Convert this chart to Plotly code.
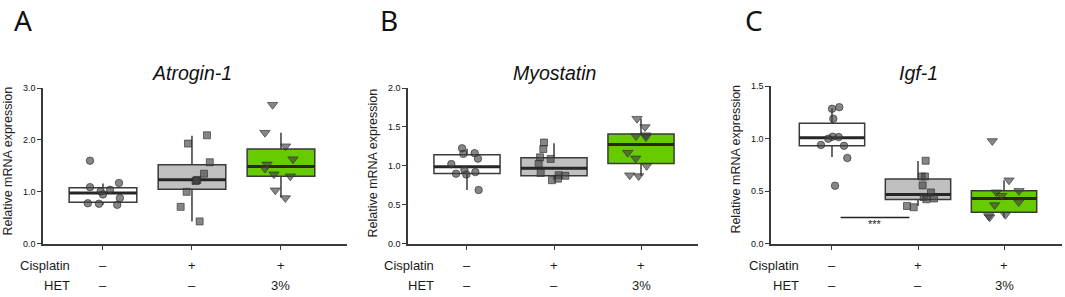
import plotly.graph_objects as go

# ---------------- data ----------------
cisplatin_labels = ["–", "+", "+"]
het_labels = ["–", "–", "3%"]
gene_titles = ["Atrogin-1", "Myostatin", "Igf-1"]
panel_letters = ["A", "B", "C"]
y_title = "Relative mRNA expression"
row_names = ["Cisplatin", "HET"]

# Atrogin-1
atrogin_ctrl = [1.60, 1.09, 1.17, 1.01, 0.95, 1.04, 0.88, 0.78, 0.77, 0.75]
atrogin_ctrl_jit = [-0.146, -0.146, 0.18, -0.026, 0.0, 0.079, 0.19, -0.17, -0.045, 0.16]
atrogin_cis = [2.09, 1.93, 1.57, 1.35, 1.23, 1.21, 1.22, 1.00, 0.71, 0.43]
atrogin_cis_jit = [0.169, -0.045, 0.2, 0.135, 0.06, 0.04, 0.05, -0.06, -0.127, 0.086]
atrogin_het = [2.68, 2.14, 1.88, 1.63, 1.53, 1.45, 1.34, 1.30, 1.03, 0.88]
atrogin_het_jit = [-0.094, -0.18, 0.052, 0.135, -0.157, -0.18, -0.079, 0.105, -0.064, 0.049]
atrogin_q1 = [0.80, 1.05, 1.30]
atrogin_median = [0.975, 1.235, 1.49]
atrogin_q3 = [1.08, 1.52, 1.826]
atrogin_lower = [0.75, 0.43, 0.89]
atrogin_upper = [1.16, 2.08, 2.14]

# Myostatin
myo_ctrl = [1.226, 1.155, 1.164, 1.093, 1.023, 0.95, 0.90, 0.89, 0.92, 0.69]
myo_ctrl_jit = [-0.057, -0.042, 0.088, 0.126, -0.18, -0.03, -0.126, -0.008, 0.096, 0.134]
myo_cis = [1.30, 1.217, 1.11, 1.09, 1.027, 0.91, 0.88, 0.873, 0.836, 0.816]
myo_cis_jit = [-0.115, -0.123, -0.16, -0.038, -0.176, -0.153, 0.054, 0.13, 0.046, -0.023]
myo_het = [1.607, 1.50, 1.383, 1.395, 1.37, 1.17, 1.097, 1.0, 0.88, 0.87]
myo_het_jit = [-0.046, 0.046, -0.057, 0.054, 0.057, -0.153, -0.061, 0.065, -0.13, -0.027]
myo_q1 = [0.903, 0.873, 1.03]
myo_median = [0.99, 0.969, 1.276]
myo_q3 = [1.143, 1.106, 1.41]
myo_lower = [0.69, 0.82, 0.87]
myo_upper = [1.22, 1.29, 1.607]

# Igf-1
igf_ctrl = [1.30, 1.285, 1.19, 1.019, 1.015, 1.0, 0.94, 0.932, 0.816, 0.552]
igf_ctrl_jit = [0.085, 0.0, 0.015, 0.008, 0.078, -0.043, -0.128, 0.14, 0.178, 0.035]
igf_cis = [0.79, 0.64, 0.64, 0.555, 0.488, 0.445, 0.423, 0.43, 0.359, 0.347]
igf_cis_jit = [0.089, 0.043, 0.081, 0.054, 0.151, 0.066, 0.097, 0.186, -0.128, -0.05]
igf_het = [0.978, 0.604, 0.49, 0.457, 0.503, 0.396, 0.368, 0.264, 0.252, 0.276]
igf_het_jit = [-0.136, 0.058, -0.089, -0.027, 0.174, 0.171, -0.109, -0.178, -0.167, 0.016]
igf_q1 = [0.932, 0.42, 0.30]
igf_median = [1.009, 0.469, 0.43]
igf_q3 = [1.147, 0.617, 0.503]
igf_lower = [0.825, 0.359, 0.25]
igf_upper = [1.29, 0.788, 0.604]
igf_sig_x = [0.1, 0.9]
igf_sig_y = [0.25, 0.25]
igf_sig_text = "***"

y_tickvals = [[0, 1, 2, 3], [0, 0.5, 1.0, 1.5, 2.0], [0, 0.5, 1.0, 1.5]]
y_ranges = [[0, 3], [0, 2], [0, 1.5]]

# ---------------- styling / layout ----------------
W, H = 1065, 297
FONT = "Liberation Sans"
BOX_W = 0.76
box_fills = ["#ffffff", "#c0c0c0", "#66cc00"]
symbols = ["circle", "square", "triangle-down"]
msizes = [7.5, 7, 9]
LINE_C = "#3a3a3a"

# pixel geometry of the three panels
panels = [
    dict(xpx=(43, 347), xr=(-0.674, 2.742), ypx=(86, 247), lbl_right=72, ytx=8, yty=162, letter_x=23),
    dict(xpx=(408, 698), xr=(-0.678, 2.655), ypx=(86, 247), lbl_right=436, ytx=373, yty=164, letter_x=389),
    dict(xpx=(771, 1062), xr=(-0.709, 2.674), ypx=(84, 247), lbl_right=801, ytx=736, yty=160, letter_x=754),
]

genes = [
    dict(pts=[atrogin_ctrl, atrogin_cis, atrogin_het], jit=[atrogin_ctrl_jit, atrogin_cis_jit, atrogin_het_jit],
         q1=atrogin_q1, med=atrogin_median, q3=atrogin_q3, lo=atrogin_lower, hi=atrogin_upper),
    dict(pts=[myo_ctrl, myo_cis, myo_het], jit=[myo_ctrl_jit, myo_cis_jit, myo_het_jit],
         q1=myo_q1, med=myo_median, q3=myo_q3, lo=myo_lower, hi=myo_upper),
    dict(pts=[igf_ctrl, igf_cis, igf_het], jit=[igf_ctrl_jit, igf_cis_jit, igf_het_jit],
         q1=igf_q1, med=igf_median, q3=igf_q3, lo=igf_lower, hi=igf_upper),
]

fig = go.Figure()
annotations = []
layout = dict(
    width=W, height=H, autosize=False,
    margin=dict(l=0, r=0, t=0, b=0, pad=0),
    paper_bgcolor="white", plot_bgcolor="white",
    showlegend=False,
    font=dict(family=FONT, color="#222222"),
)

def px_x(p):
    return p / W

def px_y(p):
    return 1 - p / H

for k, (pn, g) in enumerate(zip(panels, genes)):
    sfx = "" if k == 0 else str(k + 1)
    xa, ya = "x" + sfx, "y" + sfx
    # boxes
    for i in range(3):
        fig.add_trace(go.Box(
            x=[i], q1=[g["q1"][i]], median=[g["med"][i]], q3=[g["q3"][i]],
            lowerfence=[g["lo"][i]], upperfence=[g["hi"][i]],
            width=BOX_W, whiskerwidth=0, boxpoints=False,
            fillcolor=box_fills[i], line=dict(color=LINE_C, width=1.5),
            xaxis=xa, yaxis=ya, hoverinfo="skip",
        ))
        fig.add_trace(go.Scatter(
            x=[i - BOX_W / 2, i + BOX_W / 2], y=[g["med"][i], g["med"][i]],
            mode="lines", line=dict(color="#262626", width=3),
            xaxis=xa, yaxis=ya, hoverinfo="skip",
        ))
    # points
    for i in range(3):
        fig.add_trace(go.Scatter(
            x=[i + j for j in g["jit"][i]], y=g["pts"][i], mode="markers",
            marker=dict(symbol=symbols[i], size=msizes[i], color="rgba(65,65,65,0.64)",
                        line=dict(color="rgba(45,45,45,0.8)", width=0.8)),
            xaxis=xa, yaxis=ya, hoverinfo="skip",
        ))
    x0, x1 = pn["xpx"]
    yt, yb = pn["ypx"]
    layout["xaxis" + sfx] = dict(
        domain=[px_x(x0), px_x(x1)], range=list(pn["xr"]), anchor=ya,
        showgrid=False, zeroline=False, showline=True, linecolor=LINE_C, linewidth=1.5,
        tickmode="array", tickvals=[0, 1, 2], ticktext=["", "", ""],
        ticks="outside", ticklen=5, tickwidth=1, tickcolor=LINE_C, fixedrange=True,
    )
    layout["yaxis" + sfx] = dict(
        domain=[1 - yb / H, 1 - yt / H], range=y_ranges[k], anchor=xa,
        showgrid=False, zeroline=False, showline=True, linecolor=LINE_C, linewidth=1.5,
        tickmode="array", tickvals=y_tickvals[k], tickformat=".1f",
        ticks="outside", ticklen=4, tickwidth=1, tickcolor=LINE_C,
        tickfont=dict(size=9, family=FONT, color="#111111"), fixedrange=True,
    )
    # gene title
    annotations.append(dict(
        text=gene_titles[k], xref=xa, yref="paper", x=1, y=px_y(70),
        xanchor="center", yanchor="middle", showarrow=False,
        font=dict(size=19.5, family=FONT, color="#111111", style="italic"),
    ))
    # panel letter
    annotations.append(dict(
        text=panel_letters[k], xref="paper", yref="paper", x=px_x(pn["letter_x"]), y=px_y(16),
        xanchor="center", yanchor="middle", showarrow=False,
        font=dict(size=28, family="Noto Sans", color="#111111"),
    ))
    # y title
    annotations.append(dict(
        text=y_title, xref="paper", yref="paper", x=px_x(pn["ytx"]), y=px_y(pn["yty"]),
        xanchor="center", yanchor="middle", textangle=-90, showarrow=False,
        font=dict(size=12.5, family=FONT, color="#222222"),
    ))
    # treatment rows
    for r, (name, labels, ypix) in enumerate(zip(row_names, [cisplatin_labels, het_labels], [270, 290])):
        annotations.append(dict(
            text=name, xref="paper", yref="paper", x=px_x(pn["lbl_right"]), y=px_y(ypix),
            xanchor="right", yanchor="middle", showarrow=False,
            font=dict(size=13, family=FONT, color="#1a1a1a"),
        ))
        for i, lab in enumerate(labels):
            annotations.append(dict(
                text=lab, xref=xa, yref="paper", x=i, y=px_y(ypix),
                xanchor="center", yanchor="middle", showarrow=False,
                font=dict(size=13, family=FONT, color="#1a1a1a"),
            ))

# significance bar in Igf-1
fig.add_trace(go.Scatter(
    x=igf_sig_x, y=igf_sig_y, mode="lines", line=dict(color="#222222", width=1.5),
    xaxis="x3", yaxis="y3", hoverinfo="skip",
))
annotations.append(dict(
    text=igf_sig_text, xref="x3", yref="y3", x=sum(igf_sig_x) / 2, y=igf_sig_y[0],
    xanchor="center", yanchor="top", showarrow=False, yshift=1,
    font=dict(size=11, family=FONT, color="#222222"),
))

layout["annotations"] = annotations
fig.update_layout(**layout)
fig.write_html(
    "out.html",
    config={"displayModeBar": False},
    post_script="document.body.style.margin='0px';document.body.style.overflow='hidden';",
)
